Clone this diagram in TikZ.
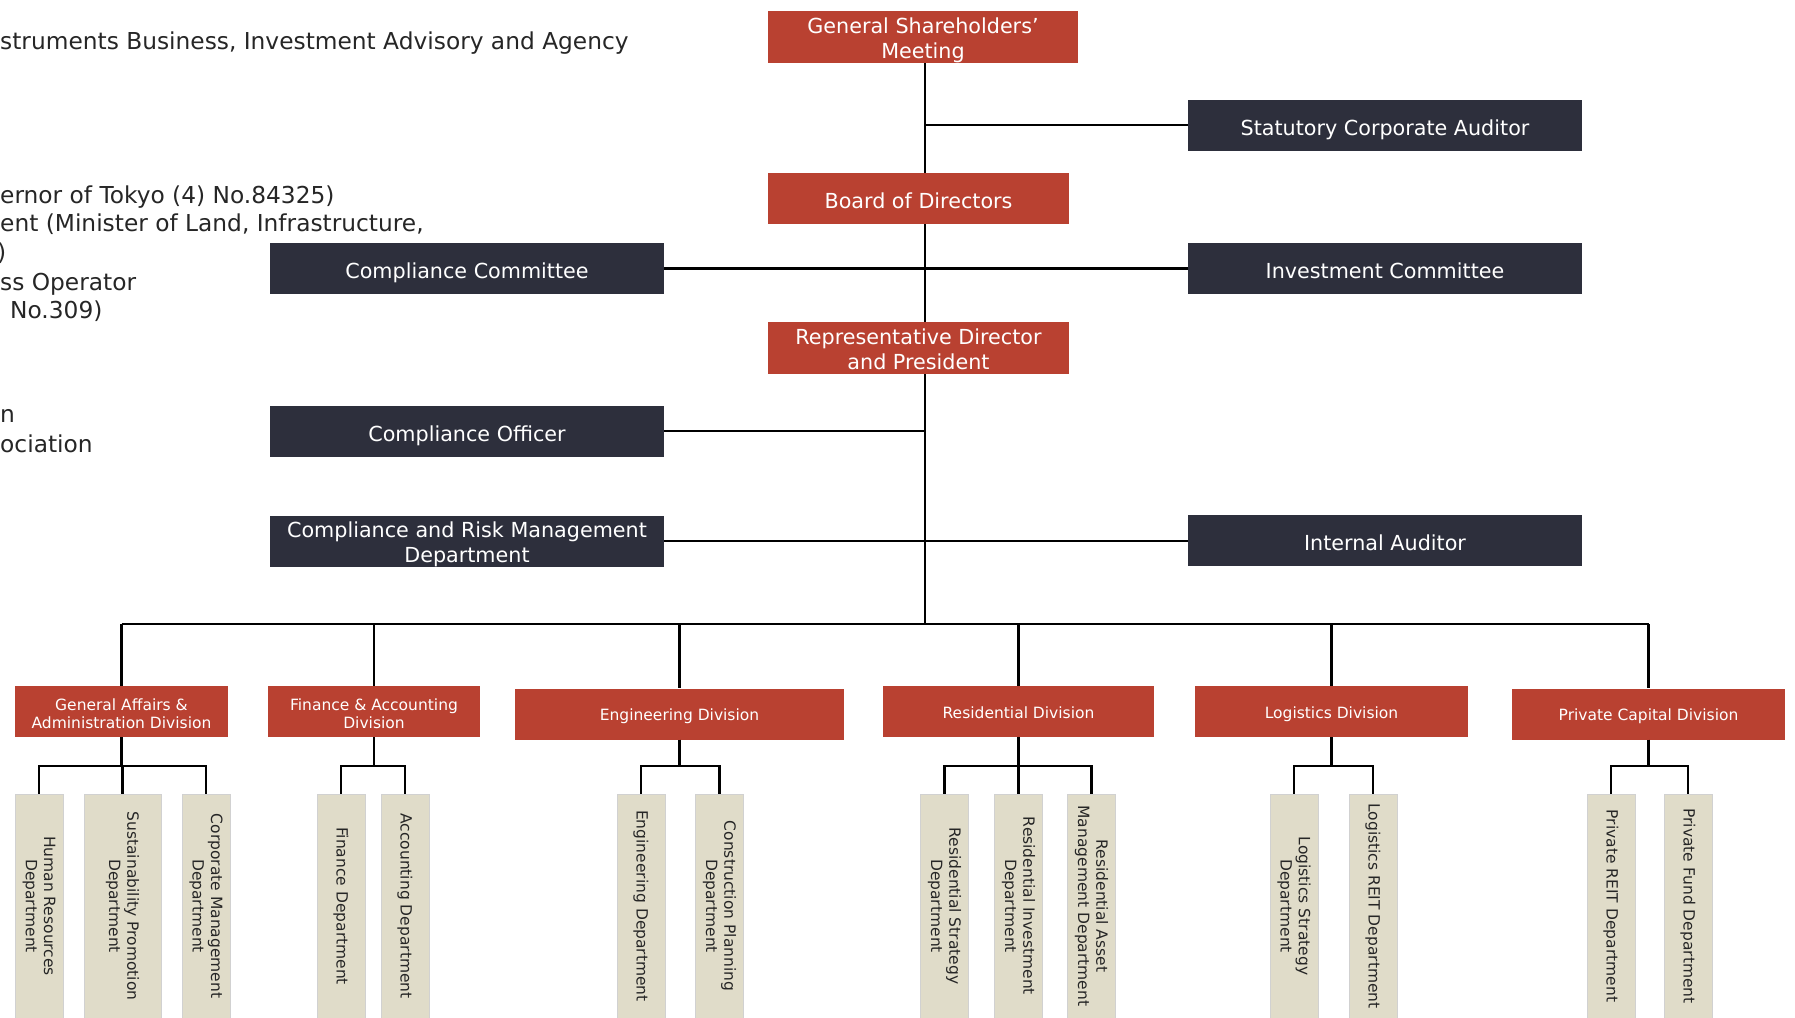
\documentclass[tikz,border=0pt]{standalone}
\usepackage{fontspec}
\setmainfont{DejaVu Sans}
\usetikzlibrary{calc}

\definecolor{orgred}{HTML}{B94131}
\definecolor{orgdark}{HTML}{2D2F3C}
\definecolor{orgsand}{HTML}{E0DCC9}

\begin{document}
\begin{tikzpicture}[x=1pt, y=-1pt,
    link/.style={line width=2.7pt, black},
    redbox/.style={fill=orgred, text=white, inner sep=0pt, minimum height=51pt, align=center, font=\fontsize{20.7}{25.5}\selectfont},
    darkbox/.style={fill=orgdark, text=white, inner sep=0pt, minimum width=394pt, minimum height=51pt, align=center, font=\fontsize{20.7}{25.5}\selectfont},
    divbox/.style={fill=orgred, text=white, inner sep=0pt, minimum height=51pt, align=center, font=\fontsize{15.5}{18}\selectfont},
    deptbox/.style={fill=orgsand, draw=black!18, line width=0.6pt, rotate=-90, inner sep=0pt, minimum width=224pt, minimum height=48pt, align=center, text=black!85, font=\fontsize{15.5}{18.3}\selectfont},
    oneline/.style={text height=20pt, text depth=0pt},
    twoline/.style={text height=43pt, text depth=0pt},
    smallone/.style={text height=13pt, text depth=0pt},
    smalltwo/.style={text height=33.5pt, text depth=0pt},
    lefttext/.style={anchor=base west, inner sep=0pt, text=black!85, font=\fontsize{23.3}{28}\selectfont}]
        \useasboundingbox (0,0) rectangle (1795,1017);
        \clip (0,0) rectangle (1795,1017);
        \coordinate (bus) at (925,624);
        \coordinate (sub) at (0,766);
        % left hand notes
        \node[lefttext] (lic) at (0,49.5) {struments Business, Investment Advisory and Agency};
        \node[lefttext] (gov) at (0,203) {ernor of Tokyo (4) No.84325)};
        \node[lefttext] (min) at (0,231.5) {ent (Minister of Land, Infrastructure,};
        \node[lefttext] (par) at (-3,260) {)};
        \node[lefttext] (opr) at (0,290) {ss Operator};
        \node[lefttext] (num) at (10,318.5) {No.309)};
        \node[lefttext] (mem) at (0,422.7) {n};
        \node[lefttext] (asc) at (0,452.5) {ociation};
        % management
        \node[redbox, twoline, minimum width=310pt, minimum height=52pt] (gsm) at (923,37) {General Shareholders’\\Meeting};
        \node[darkbox, oneline] (sca) at (1385,125) {Statutory Corporate Auditor};
        \node[redbox, oneline, minimum width=301pt] (bod) at (918.5,198.5) {Board of Directors};
        \node[darkbox, oneline] (cc) at (467,268.5) {Compliance Committee};
        \node[darkbox, oneline] (ic) at (1385,268.5) {Investment Committee};
        \node[redbox, twoline, minimum width=301pt, minimum height=52pt] (rdp) at (918.5,348) {Representative Director\\and President};
        \node[darkbox, oneline] (co) at (467,431) {Compliance Officer};
        \node[darkbox, twoline] (crm) at (467,541) {Compliance and Risk Management\\Department};
        \node[darkbox, oneline] (ia) at (1385,540) {Internal Auditor};
        \draw[link] (gsm.south -| bus) -- (bod.north -| bus) (bod.south -| bus) -- (rdp.north -| bus) (rdp.south -| bus) -- (bus);
        \draw[link] (sca.west) -- (sca.west -| bus);
        \draw[link] (cc.east) -- (ic.west);
        \draw[link] (co.east) -- (co.east -| bus);
        \draw[link] (crm.east) -- (crm.east -| ia.west);
        % divisions
        \node[divbox, smalltwo, minimum width=213pt] (ga) at (121.5,711.5) {General Affairs \&\\Administration Division};
        \node[divbox, smalltwo, minimum width=212pt] (fa) at (374,711.5) {Finance \& Accounting\\Division};
        \node[divbox, smallone, minimum width=329pt] (eng) at (679.5,714) {Engineering Division};
        \node[divbox, smallone, minimum width=271pt] (res) at (1018.5,711.5) {Residential Division};
        \node[divbox, smallone, minimum width=273pt] (lgs) at (1331.5,711.5) {Logistics Division};
        \node[divbox, smallone, minimum width=273pt] (pc) at (1648.5,714) {Private Capital Division};
        \draw[link] (ga.north |- bus) -- (pc.north |- bus);
        \foreach \d in {ga,fa,eng,res,lgs,pc}
            \draw[link] (\d.north |- bus) -- (\d.north);
        % departments
        \node[deptbox] (hr) at (39,906) {Human Resources\\Department};
        \node[deptbox, minimum height=77pt] (sp) at (122.5,906) {Sustainability Promotion\\Department};
        \node[deptbox] (cm) at (206,906) {Corporate Management\\Department};
        \node[deptbox] (fin) at (341,906) {Finance Department};
        \node[deptbox] (acc) at (405,906) {Accounting Department};
        \node[deptbox] (ed) at (641,906) {Engineering Department};
        \node[deptbox] (cp) at (719.5,906) {Construction Planning\\Department};
        \node[deptbox] (rs) at (944.5,906) {Residential Strategy\\Department};
        \node[deptbox] (ri) at (1018.5,906) {Residential Investment\\Department};
        \node[deptbox] (ram) at (1091.5,906) {Residential Asset\\Management Department};
        \node[deptbox] (ls) at (1294,906) {Logistics Strategy\\Department};
        \node[deptbox] (lr) at (1373,906) {Logistics REIT Department};
        \node[deptbox] (pr) at (1611,906) {Private REIT Department};
        \node[deptbox] (pf) at (1688,906) {Private Fund Department};
        \foreach \d/\c in {ga/hr, ga/sp, ga/cm, fa/fin, fa/acc, eng/ed, eng/cp, res/rs, res/ri, res/ram, lgs/ls, lgs/lr, pc/pr, pc/pf}
            \draw[link] (\d.south) -- (\d.south |- sub) -| (\c.west);
\end{tikzpicture}
\end{document}
